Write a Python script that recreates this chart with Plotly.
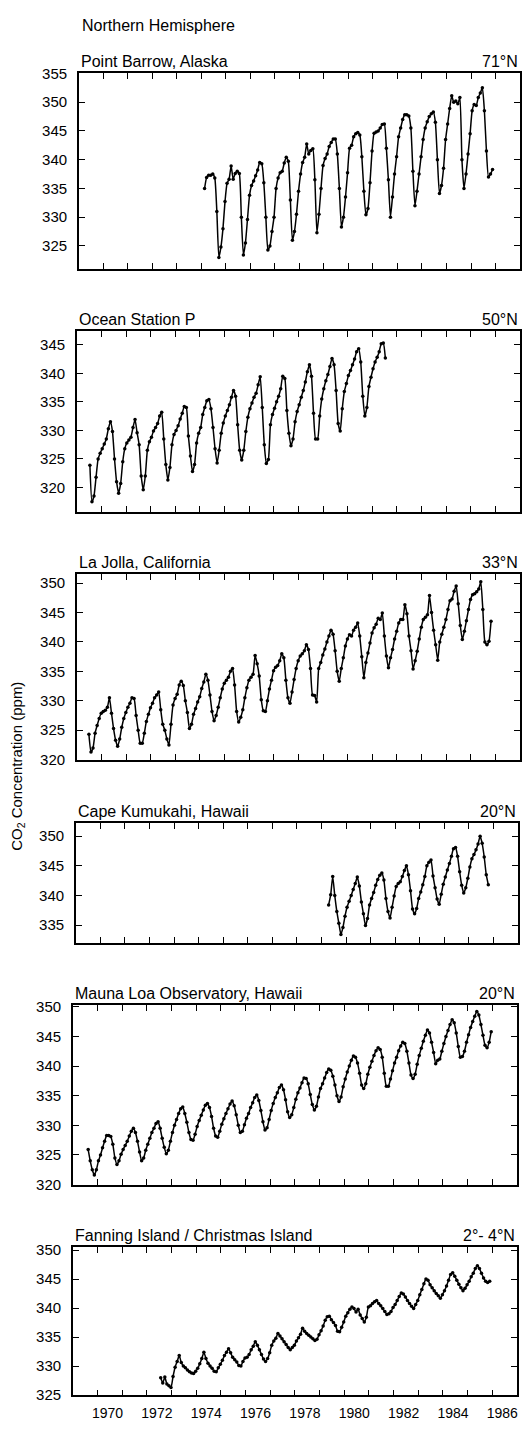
import plotly.graph_objects as go

# ---------------- data (monthly values) ----------------
LABEL_YEARS = list(range(1970, 1987, 2))
YEAR_LABELS = [str(y) for y in LABEL_YEARS]
MINOR_YEARS = list(range(1971, 1986, 2))

BARROW_START = 1974.13
barrow = [
    335.0, 336.9, 337.3, 337.3, 337.5, 336.8, 331.0, 323.0, 324.8, 328.0, 332.7, 335.9,
    336.6, 338.9, 336.6, 337.6, 338.0, 337.6, 330.0, 323.4, 325.5, 329.6, 333.8, 335.5,
    336.3, 337.2, 338.2, 339.5, 339.3, 336.0, 330.0, 324.3, 325.0, 327.5, 330.0, 335.0,
    336.8, 337.7, 338.0, 339.4, 340.4, 339.7, 333.0, 326.0, 327.5, 330.5, 334.5, 337.5,
    339.5, 340.4, 342.7, 341.0, 341.6, 341.9, 336.5, 327.3, 330.5, 335.0, 339.0, 340.2,
    341.0, 342.3, 343.0, 343.6, 343.6, 341.0, 335.0, 328.3, 330.0, 333.5, 337.7, 342.0,
    342.5, 344.0, 344.5, 344.7, 344.3, 340.5, 334.5, 330.4, 331.5, 336.0, 341.5, 344.6,
    344.8, 345.0, 345.5, 346.1, 346.2, 342.0, 336.5, 330.0, 333.5, 337.5, 340.5, 344.0,
    345.5, 347.0, 347.8, 347.8, 347.6, 345.5, 338.0, 332.0, 334.5, 337.5, 340.5, 343.5,
    345.5, 346.6, 347.5, 348.0, 348.3, 346.5, 340.0, 334.1, 335.5, 338.5, 343.5, 346.2,
    348.9, 351.1, 350.0, 350.2, 349.7, 350.8, 340.0, 335.0, 337.5, 341.0, 344.5, 348.5,
    349.6, 349.4, 350.8, 351.6, 352.5, 348.5, 341.5, 337.0, 337.5, 338.3,
]

STATIONP_START = 1969.53
stationp = [
    323.9, 317.5, 318.5, 321.8, 325.0, 326.0, 326.8, 327.6, 328.5, 330.3, 331.5, 329.8,
    325.0, 321.0, 319.0, 320.7, 324.5, 326.8, 327.8, 328.3, 328.8, 330.5, 331.9, 329.6,
    327.5, 322.0, 319.6, 322.0, 326.5, 328.0, 328.8, 329.9, 330.5, 331.2, 332.5, 333.2,
    328.5, 324.0, 321.3, 323.5, 327.5, 329.3, 330.0, 330.8, 332.0, 333.0, 334.2, 334.0,
    329.0, 325.5, 322.8, 324.0, 327.8, 329.5, 330.5, 332.8, 334.0, 335.2, 335.4, 333.8,
    330.5, 326.8, 324.3, 326.5, 329.5, 331.3, 332.5, 333.5, 334.5, 335.8, 337.0, 336.0,
    331.0, 326.5, 324.8, 326.5, 329.8, 332.3, 333.8, 334.8, 335.8, 336.5, 338.0, 339.4,
    334.0, 327.5, 324.2, 324.9, 331.0, 332.8, 333.9, 335.0, 336.0, 337.3, 339.5, 339.1,
    333.5, 329.5, 327.3, 328.5, 331.5, 333.3, 334.5, 335.8, 337.0, 338.5, 340.3, 341.5,
    339.5, 333.0, 328.5, 328.5, 332.5, 335.5, 337.3, 338.7, 339.8, 341.2, 342.6, 341.5,
    337.0, 331.2, 329.9, 333.8, 336.8, 338.2, 339.6, 340.5, 341.5, 342.5, 343.8, 344.3,
    342.0, 336.0, 332.5, 334.0, 337.7, 339.3, 340.8, 342.0, 342.8, 343.8, 345.2, 345.3,
    342.7,
]

LAJOLLA_START = 1969.49
lajolla = [
    324.3, 321.3, 322.0, 324.5, 325.8, 327.0, 327.9, 328.2, 328.4, 328.9, 330.5, 327.9,
    325.3, 323.3, 322.3, 323.5, 325.5, 327.0, 328.0, 328.9, 329.6, 330.5, 330.4, 327.5,
    325.0, 322.8, 322.8, 324.5, 326.5, 327.7, 328.8, 329.6, 330.5, 331.0, 331.5, 328.5,
    326.0, 325.0, 323.5, 322.5, 326.0, 329.3, 330.4, 331.1, 332.7, 333.3, 332.6, 330.0,
    328.0, 325.3, 326.0, 327.7, 328.7, 329.8, 330.7, 332.1, 333.2, 334.5, 333.5, 331.0,
    328.2, 326.6, 327.5, 328.9, 330.5, 332.0, 333.0, 333.5, 334.0, 335.0, 335.5, 332.7,
    328.2, 326.4, 327.2, 328.5, 330.5, 332.2, 333.5, 334.0, 334.5, 337.7, 336.3, 334.2,
    330.2, 328.3, 328.2, 330.0, 332.0, 333.5, 335.1, 335.7, 336.0, 336.8, 338.0, 337.3,
    333.5, 330.5, 329.6, 331.5, 333.6, 335.5, 336.8, 337.6, 338.0, 338.5, 339.5, 338.7,
    335.5, 331.0, 330.9, 329.8, 335.5, 336.5, 337.8, 338.8, 340.0, 341.0, 342.0, 341.3,
    338.5, 335.0, 333.3, 335.5, 337.3, 339.3, 340.5, 341.2, 341.0, 342.0, 342.5, 343.2,
    341.0, 337.5, 333.9, 336.5, 338.1, 339.8, 341.5, 342.4, 343.0, 344.0, 343.8, 344.9,
    341.0, 337.6, 335.6, 337.3, 338.7, 340.5, 341.8, 343.2, 343.8, 343.8, 346.3, 344.8,
    341.0, 338.5, 335.4, 336.8, 338.4, 340.5, 342.5, 343.8, 344.2, 344.6, 347.9, 345.0,
    342.0, 339.5, 336.9, 340.0, 341.3, 342.5, 343.8, 345.5, 347.0, 347.3, 348.6, 349.5,
    346.5, 342.8, 340.4, 341.8, 343.6, 345.5, 347.2, 348.0, 348.2, 348.5, 349.0, 350.2,
    345.5, 340.0, 339.5, 340.1, 343.5,
]

KUMUKAHI_START = 1979.29
kumukahi = [
    338.4, 340.1, 343.2, 340.0, 337.3, 335.3, 333.4, 334.6, 336.5, 338.0, 339.0, 340.0,
    341.0, 342.0, 343.1, 341.6, 338.9, 336.9, 334.9, 336.1, 338.4, 339.5, 340.5, 341.7,
    342.7, 343.4, 343.8, 342.6, 339.5, 337.3, 336.2, 338.0, 339.9, 341.5, 342.0, 342.3,
    343.2, 344.2, 345.0, 343.5, 340.8, 337.7, 336.9, 337.8, 339.5, 340.6, 341.8, 343.2,
    345.0, 345.6, 346.0, 343.3, 341.3, 339.4, 338.5, 340.2, 341.9, 343.1, 344.3, 345.4,
    346.6, 347.9, 348.1, 346.6, 344.0, 341.7, 340.4, 341.3, 342.9, 344.8, 346.2, 346.9,
    347.7, 348.7, 350.0, 348.8, 346.5, 343.5, 341.8,
]

MAUNALOA_START = 1969.62
maunaloa = [
    325.9, 324.0, 322.5, 321.6, 322.5, 324.0, 325.0, 326.2, 327.3, 328.3, 328.3, 328.1,
    326.8, 324.5, 323.4, 324.0, 325.1, 325.9, 326.6, 327.3, 328.2, 329.0, 329.5, 328.8,
    327.3, 325.5, 324.0, 324.5, 325.8, 326.8, 327.8, 328.8, 329.5, 330.3, 330.6, 329.5,
    327.8, 326.3, 325.2, 325.8, 327.3, 328.8, 330.0, 331.0, 332.0, 332.8, 333.1, 332.0,
    330.5, 328.8, 327.6, 327.5, 328.5, 329.8, 330.8, 331.7, 332.6, 333.4, 333.7, 333.0,
    331.5, 329.5, 328.2, 328.0, 329.0, 330.2, 331.1, 332.0, 332.8, 333.6, 334.1, 333.3,
    331.8, 330.0, 328.8, 329.0, 330.1, 331.2, 332.0, 333.0, 333.8, 334.7, 335.1, 334.2,
    332.5, 330.6, 329.2, 329.6, 331.0, 332.5, 333.7, 334.7, 335.5, 336.4, 336.8, 336.0,
    334.3, 332.3, 331.3, 331.8, 333.0, 334.4, 335.5, 336.3, 337.2, 338.0, 337.9, 337.0,
    335.2, 333.5, 332.6, 333.2, 334.8, 336.2, 337.0, 338.0, 338.9, 339.5, 339.3, 338.3,
    336.8, 335.0, 334.0, 334.8, 336.5, 337.8, 339.0, 340.0, 341.0, 341.7, 341.5, 340.5,
    338.8, 336.8, 336.2, 337.0, 338.6, 339.8, 340.8, 341.8, 342.6, 343.1, 342.8, 341.5,
    338.8, 336.6, 336.6, 337.8, 339.2, 340.5, 341.5, 342.6, 343.4, 344.0, 343.8, 342.5,
    340.5, 338.5, 337.9, 338.6, 340.3, 341.8, 343.0, 344.2, 345.2, 346.1, 345.6, 344.0,
    342.3, 340.4, 341.0, 341.2, 342.5, 343.8, 345.0, 346.0, 347.0, 347.8, 347.3, 345.6,
    343.3, 341.5, 341.6, 342.5, 344.0, 345.3, 346.5, 347.5, 348.4, 349.2, 348.6, 347.0,
    345.2, 343.5, 343.1, 344.0, 345.8,
]

FANNING_START = 1972.56
fanning = [
    328.0, 327.1, 328.1, 326.9, 326.6, 326.3, 328.2, 329.8, 330.8, 331.8, 330.6, 330.0,
    329.7, 329.3, 329.0, 328.8, 328.7, 329.1, 329.6, 330.4, 331.3, 332.4, 331.3, 330.5,
    330.0, 329.6, 329.1, 329.0, 329.7, 330.3, 331.0, 331.8, 332.4, 333.0, 332.3, 331.5,
    331.1, 330.7, 330.1, 330.0, 330.8, 331.4, 331.5, 332.0, 332.8, 333.4, 334.2, 333.6,
    332.8, 332.0, 331.2, 330.8, 331.3, 332.3, 333.6, 334.3, 334.8, 335.6, 335.2, 334.7,
    334.2, 333.7, 333.2, 332.8, 333.2, 333.6, 334.3, 334.9, 335.5, 336.5, 336.0, 335.6,
    335.3, 335.0, 334.7, 334.4, 334.6, 335.4, 336.1, 336.9, 337.9, 338.5, 338.6, 338.0,
    337.5, 337.0, 336.0, 335.9, 336.7, 337.6, 338.6, 339.2, 339.8, 340.2, 339.9, 339.3,
    339.8, 338.8, 338.2, 337.6, 338.4, 340.2, 340.4, 340.8, 341.1, 341.3, 340.8, 340.4,
    339.9, 339.4, 338.9, 339.0, 339.4, 340.1, 340.6, 341.3, 342.0, 342.6, 342.4, 341.9,
    341.3, 340.8, 340.3, 339.9, 340.6, 341.3, 342.3, 343.2, 344.2, 345.0, 344.8, 344.0,
    343.5, 343.0, 342.5, 342.1, 341.7, 342.3, 343.0, 343.8, 344.8, 345.8, 346.1, 345.5,
    344.8, 344.1, 343.5, 343.0, 343.4, 344.0, 344.6, 345.4, 346.0, 346.8, 347.3, 346.8,
    346.0, 345.2, 344.6, 344.4, 344.6,
]

STATIONS = ["Point Barrow, Alaska", "Ocean Station P", "La Jolla, California",
            "Cape Kumukahi, Hawaii", "Mauna Loa Observatory, Hawaii",
            "Fanning Island / Christmas Island"]
LATITUDES = ["71°N", "50°N", "33°N", "20°N", "20°N", "2°- 4°N"]
SERIES = [(BARROW_START, barrow), (STATIONP_START, stationp), (LAJOLLA_START, lajolla),
          (KUMUKAHI_START, kumukahi), (MAUNALOA_START, maunaloa), (FANNING_START, fanning)]
Y_TICKS = [list(range(325, 356, 5)), list(range(320, 346, 5)), list(range(320, 351, 5)),
           list(range(335, 351, 5)), list(range(320, 351, 5)), list(range(325, 351, 5))]

# ---------------- layout (pixels in the 529 x 1432 page) ----------------
W, H = 529, 1432
FRAMES = [(79, 521, 65, 263), (77, 521, 326, 509), (77, 521, 572, 760),
          (76, 519, 824, 945), (73, 518, 1008, 1190), (73, 518, 1253, 1403)]
Y_RANGES = [(321.0, 355.03), (315.7, 347.4), (319.95, 351.5),
            (332.0, 352.2), (319.95, 350.3), (324.95, 350.5)]
X_RANGE = (1969, 1987)
FONT = "Liberation Sans, Arial, Helvetica, sans-serif"

fig = go.Figure()
annotations = []
layout = dict(width=W, height=H, margin=dict(l=0, r=0, t=0, b=0),
              paper_bgcolor="white", plot_bgcolor="white", showlegend=False,
              font=dict(family=FONT, color="black"))

for i, ((t0, vals), frame, yr, yt) in enumerate(zip(SERIES, FRAMES, Y_RANGES, Y_TICKS)):
    n = i + 1
    sx = "" if n == 1 else str(n)
    xs = [t0 + k / 12.0 for k in range(len(vals))]
    fig.add_trace(go.Scatter(
        x=xs, y=vals, mode="lines+markers", xaxis="x" + sx, yaxis="y" + sx,
        line=dict(color="black", width=1.5, shape="spline", smoothing=0.5),
        marker=dict(color="black", size=3.5), hoverinfo="skip"))
    l, r, t, b = frame
    last = (n == 6)
    layout["xaxis" + sx] = dict(
        domain=[l / W, r / W], range=list(X_RANGE), anchor="y" + sx,
        tickmode="array", tickvals=LABEL_YEARS, ticktext=YEAR_LABELS,
        ticks="inside", ticklen=6, tickwidth=1.3, tickcolor="black",
        minor=dict(tickmode="array", tickvals=MINOR_YEARS, ticks="inside",
                   ticklen=6, tickwidth=1.3, tickcolor="black", showgrid=False),
        showline=True, linewidth=1.5, linecolor="black", mirror="ticks",
        showgrid=False, zeroline=False, showticklabels=last,
        ticklabelshift=10, ticklabelstandoff=4,
        tickfont=dict(size=14, family=FONT, color="black"))
    layout["yaxis" + sx] = dict(
        domain=[1 - b / H, 1 - t / H], range=list(yr), anchor="x" + sx,
        tickmode="array", tickvals=yt,
        ticks="inside", ticklen=6, tickwidth=1.3, tickcolor="black",
        showline=True, linewidth=1.5, linecolor="black", mirror="ticks",
        showgrid=False, zeroline=False, ticklabelstandoff=7,
        tickfont=dict(size=15, family=FONT, color="black"))
    annotations.append(dict(text=STATIONS[i], xref="paper", yref="paper",
                            x=l / W, y=1 - (t - 12) / H, xanchor="left", yanchor="middle",
                            showarrow=False, font=dict(size=16, family=FONT, color="black")))
    annotations.append(dict(text=LATITUDES[i], xref="paper", yref="paper",
                            x=r / W, y=1 - (t - 12) / H, xanchor="right", yanchor="middle",
                            showarrow=False, font=dict(size=16, family=FONT, color="black")))

annotations.append(dict(text="Northern Hemisphere", xref="paper", yref="paper",
                        x=80 / W, y=1 - 17 / H, xanchor="left", yanchor="middle",
                        showarrow=False, font=dict(size=16, family=FONT, color="black")))
annotations.append(dict(text="CO<sub>2</sub> Concentration (ppm)", xref="paper", yref="paper",
                        x=18 / W, y=1 - 766 / H, xanchor="center", yanchor="middle",
                        textangle=-90, showarrow=False,
                        font=dict(size=15, family=FONT, color="black")))
layout["annotations"] = annotations
fig.update_layout(**layout)
fig.write_html("out.html")
